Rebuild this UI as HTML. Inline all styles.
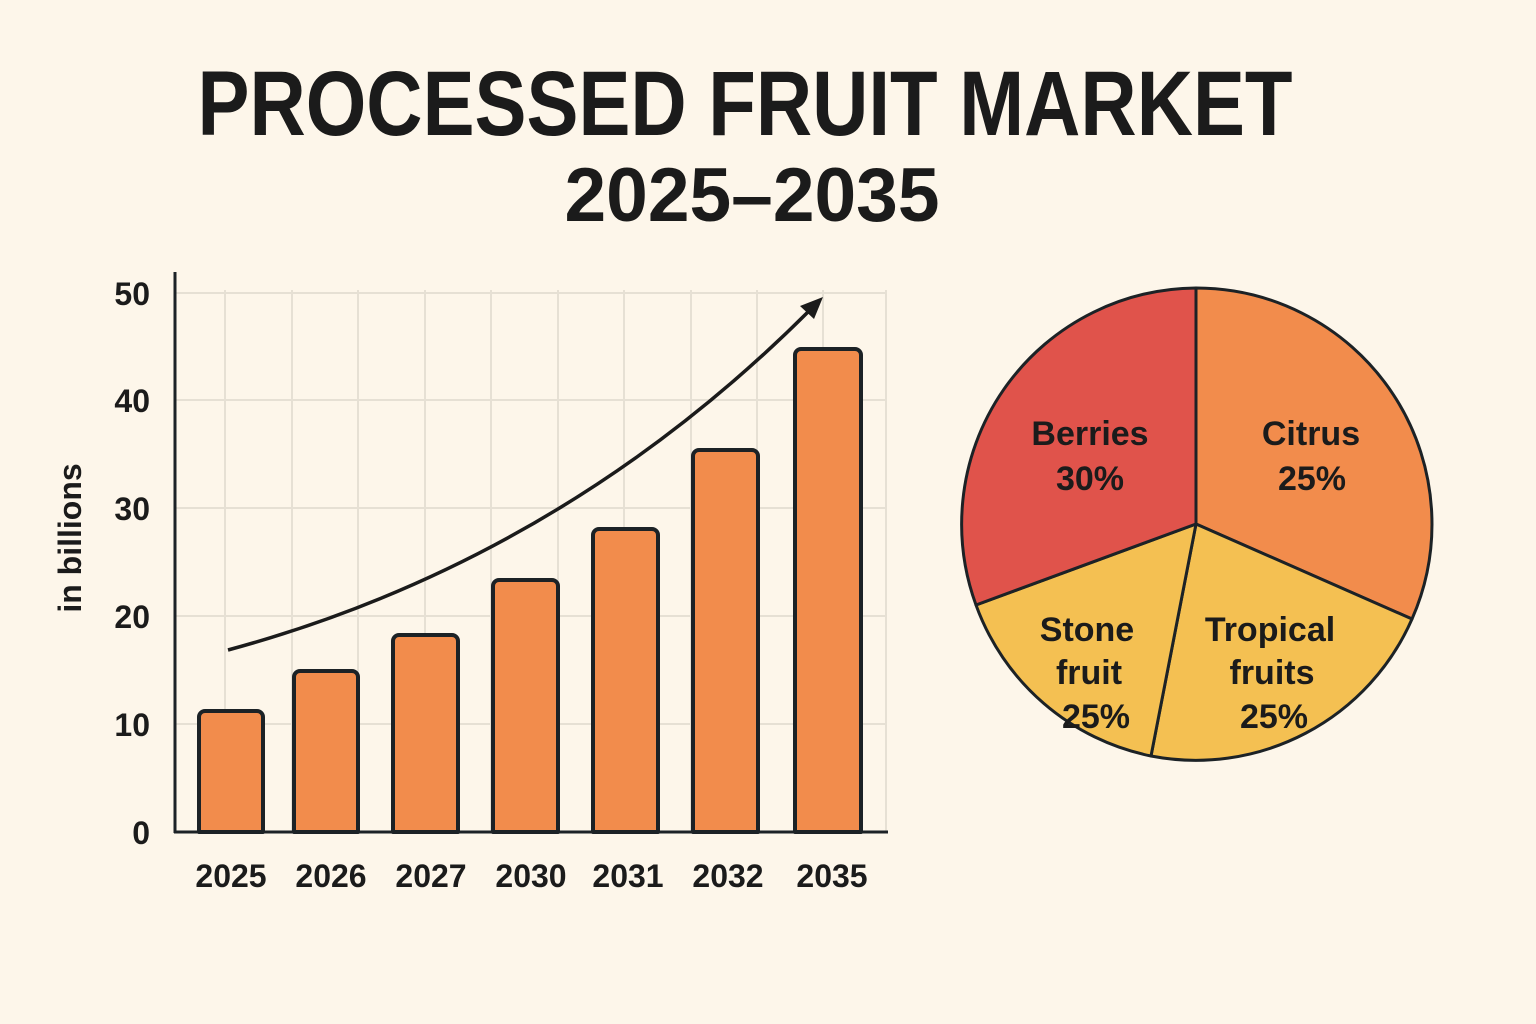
<!DOCTYPE html>
<html><head><meta charset="utf-8"><style>
html,body{margin:0;padding:0;background:#fdf6ea;}
svg{display:block;}
text{font-family:"Liberation Sans","DejaVu Sans",sans-serif;font-weight:bold;fill:#1b1b1b;}
</style></head><body>
<svg width="1536" height="1024" viewBox="0 0 1536 1024" xmlns="http://www.w3.org/2000/svg">
<rect width="1536" height="1024" fill="#fdf6ea"/>
<text x="745" y="135" font-size="92" text-anchor="middle" textLength="1095" lengthAdjust="spacingAndGlyphs">PROCESSED FRUIT MARKET</text>
<text x="752" y="221" font-size="76" text-anchor="middle" textLength="375" lengthAdjust="spacingAndGlyphs">2025–2035</text>
<g stroke="#e6e0d4" stroke-width="2">
<line x1="175" y1="293" x2="887" y2="293"/><line x1="175" y1="400" x2="887" y2="400"/>
<line x1="175" y1="508" x2="887" y2="508"/><line x1="175" y1="616" x2="887" y2="616"/>
<line x1="175" y1="724" x2="887" y2="724"/>
<line x1="225" y1="290" x2="225" y2="832"/><line x1="292" y1="290" x2="292" y2="832"/>
<line x1="358" y1="290" x2="358" y2="832"/><line x1="425" y1="290" x2="425" y2="832"/>
<line x1="491" y1="290" x2="491" y2="832"/><line x1="558" y1="290" x2="558" y2="832"/>
<line x1="624" y1="290" x2="624" y2="832"/><line x1="691" y1="290" x2="691" y2="832"/>
<line x1="757" y1="290" x2="757" y2="832"/><line x1="823" y1="290" x2="823" y2="832"/>
<line x1="886" y1="290" x2="886" y2="832"/>
</g>
<g fill="#f28c4c" stroke="#1c2226" stroke-width="4" stroke-linejoin="round">
<path d="M199 832V717a6 6 0 0 1 6-6h52a6 6 0 0 1 6 6V832Z"/>
<path d="M294 832V677a6 6 0 0 1 6-6h52a6 6 0 0 1 6 6V832Z"/>
<path d="M393 832V641a6 6 0 0 1 6-6h53a6 6 0 0 1 6 6V832Z"/>
<path d="M493 832V586a6 6 0 0 1 6-6h53a6 6 0 0 1 6 6V832Z"/>
<path d="M593 832V535a6 6 0 0 1 6-6h53a6 6 0 0 1 6 6V832Z"/>
<path d="M693 832V456a6 6 0 0 1 6-6h53a6 6 0 0 1 6 6V832Z"/>
<path d="M795 832V355a6 6 0 0 1 6-6h54a6 6 0 0 1 6 6V832Z"/>
</g>
<line x1="175" y1="272" x2="175" y2="833" stroke="#1c2226" stroke-width="3"/>
<line x1="174" y1="832" x2="888" y2="832" stroke="#1c2226" stroke-width="3"/>
<g font-size="32" text-anchor="end">
<text x="150" y="305">50</text><text x="150" y="412">40</text><text x="150" y="520">30</text>
<text x="150" y="628">20</text><text x="150" y="736">10</text><text x="150" y="844">0</text>
</g>
<g font-size="32" text-anchor="middle">
<text x="231" y="887">2025</text><text x="331" y="887">2026</text><text x="431" y="887">2027</text>
<text x="531" y="887">2030</text><text x="628" y="887">2031</text><text x="728" y="887">2032</text><text x="832" y="887">2035</text>
</g>
<text transform="translate(81,538) rotate(-90)" font-size="32" text-anchor="middle">in billions</text>
<path d="M228 650 Q560 560 810 310" fill="none" stroke="#1b1b1b" stroke-width="3.5"/>
<path d="M823 297 L800 306 L814 319 Z" fill="#1b1b1b"/>
<g stroke="#1c2226" stroke-width="3" stroke-linejoin="round">
<path d="M1196 524 L1196 288 A236 236 0 0 1 1412 619 Z" fill="#f28c4c"/>
<path d="M1196 524 L1412 619 A236 236 0 0 1 1151 756 Z" fill="#f4c052"/>
<path d="M1196 524 L1151 756 A236 236 0 0 1 976 605 Z" fill="#f4c052"/>
<path d="M1196 524 L976 605 A236 236 0 0 1 1196 288 Z" fill="#e0534b"/>
</g>
<g font-size="34" text-anchor="middle">
<text x="1090" y="445">Berries</text><text x="1090" y="490">30%</text>
<text x="1311" y="445">Citrus</text><text x="1312" y="490">25%</text>
<text x="1087" y="641">Stone</text><text x="1089" y="684">fruit</text><text x="1096" y="728">25%</text>
<text x="1270" y="641">Tropical</text><text x="1272" y="684">fruits</text><text x="1274" y="728">25%</text>
</g>
</svg>
</body></html>
